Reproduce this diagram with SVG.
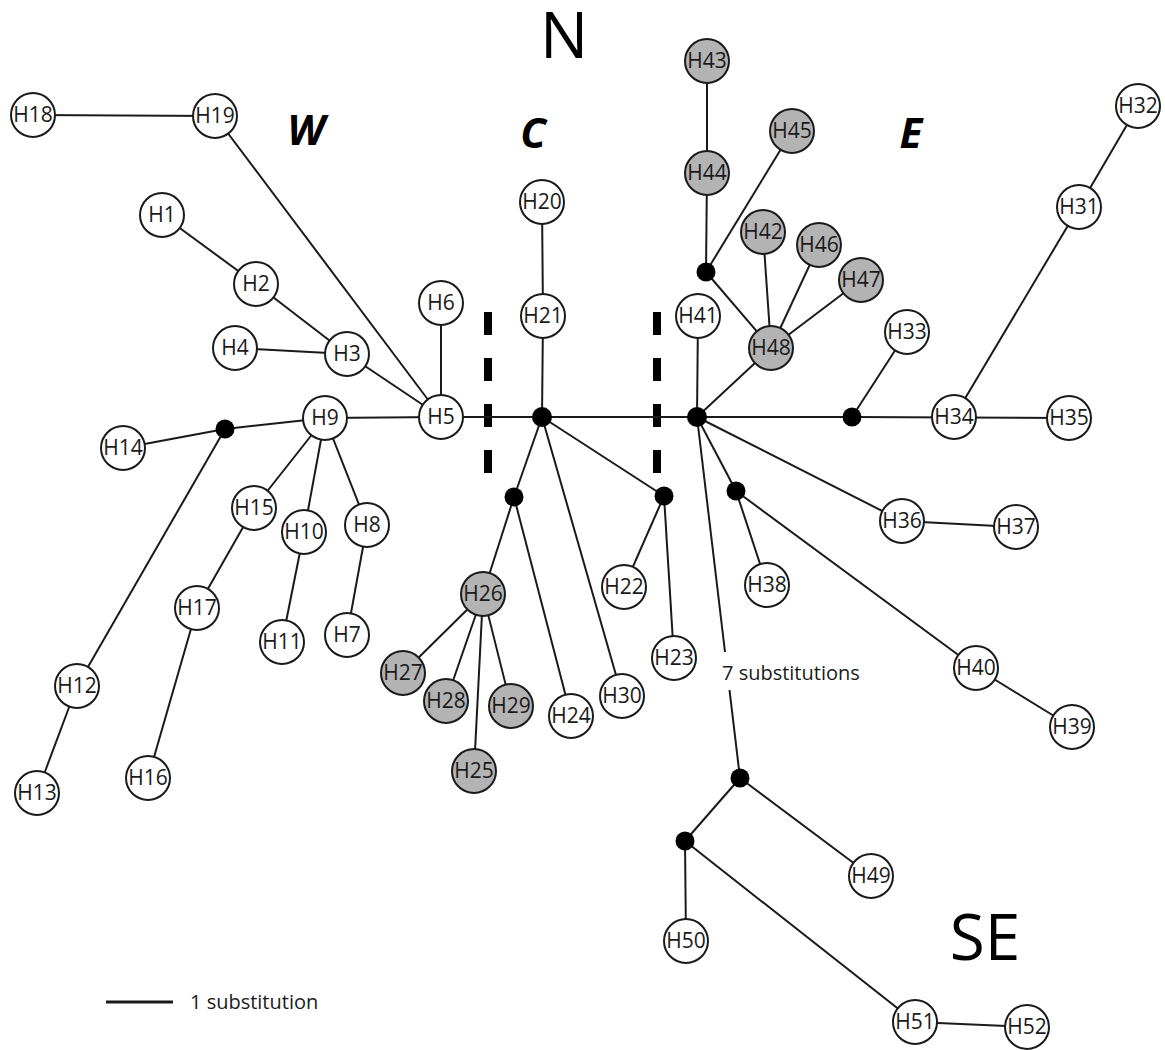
<svg xmlns="http://www.w3.org/2000/svg" width="1165" height="1050" viewBox="0 0 1165 1050">
<style>
.e{stroke:#1a1a1a;stroke-width:2;fill:none}
.n circle{stroke:#1a1a1a;stroke-width:2;fill:#fff}
.g circle{fill:#b3b3b3}
.n text{font-family:"Open Sans","Noto Sans",sans-serif;font-size:21px;text-anchor:middle;fill:#1a1a1a}
.j{fill:#000}
.big{font-family:"Open Sans","Noto Sans",sans-serif;font-size:64px;text-anchor:middle;fill:#000}
.reg{font-family:"Open Sans","Noto Sans",sans-serif;font-size:42px;font-weight:bold;font-style:italic;text-anchor:middle;fill:#000}
.lab{font-family:"Open Sans","Noto Sans",sans-serif;font-size:20px;fill:#1a1a1a}
.dash{stroke:#000;stroke-width:8;stroke-dasharray:23 23}
</style>
<rect width="1165" height="1050" fill="#fff"/>
<g id="labels">
<text class="big" x="564" y="58">N</text>
<text class="big" x="985" y="960">SE</text>
<text class="reg" x="306" y="145">W</text>
<text class="reg" x="533" y="148">C</text>
<text class="reg" x="911" y="148">E</text>
<text class="lab" x="722" y="680">7 substitutions</text>
<line x1="106" y1="1002" x2="173" y2="1002" stroke="#1a1a1a" stroke-width="3"/>
<text class="lab" x="190" y="1009">1 substitution</text>
</g>
<g id="dividers">
<line class="dash" x1="488" y1="312" x2="488" y2="473"/>
<line class="dash" x1="657" y1="312" x2="657" y2="473"/>
</g>
<g id="connectors" class="e">
<line x1="33" y1="115" x2="215" y2="116"/>
<line x1="215" y1="116" x2="441" y2="417"/>
<line x1="162" y1="215" x2="256" y2="284"/>
<line x1="256" y1="284" x2="347" y2="354"/>
<line x1="235" y1="348" x2="347" y2="354"/>
<line x1="347" y1="354" x2="441" y2="417"/>
<line x1="441" y1="303" x2="441" y2="417"/>
<line x1="325" y1="418" x2="441" y2="417"/>
<line x1="441" y1="417" x2="852" y2="417"/>
<line x1="852" y1="417" x2="1069" y2="418"/>
<line x1="542" y1="417" x2="543" y2="316"/>
<line x1="543" y1="316" x2="542" y2="202"/>
<line x1="542" y1="417" x2="514" y2="497"/>
<line x1="514" y1="497" x2="483" y2="594"/>
<line x1="514" y1="497" x2="571" y2="716"/>
<line x1="542" y1="417" x2="622" y2="696"/>
<line x1="542" y1="417" x2="664" y2="496"/>
<line x1="664" y1="496" x2="624" y2="587"/>
<line x1="664" y1="496" x2="674" y2="658"/>
<line x1="483" y1="594" x2="403" y2="673"/>
<line x1="483" y1="594" x2="446" y2="701"/>
<line x1="483" y1="594" x2="511" y2="706"/>
<line x1="483" y1="594" x2="474" y2="771"/>
<line x1="697" y1="417" x2="698" y2="316"/>
<line x1="697" y1="417" x2="771" y2="348"/>
<line x1="771" y1="348" x2="706" y2="272"/>
<line x1="706" y1="272" x2="707" y2="173"/>
<line x1="707" y1="173" x2="707" y2="61"/>
<line x1="706" y1="272" x2="792" y2="131"/>
<line x1="771" y1="348" x2="763" y2="232"/>
<line x1="771" y1="348" x2="819" y2="245"/>
<line x1="771" y1="348" x2="861" y2="280"/>
<line x1="852" y1="417" x2="907" y2="332"/>
<line x1="954" y1="417" x2="1079" y2="207"/>
<line x1="1079" y1="207" x2="1138" y2="106"/>
<line x1="697" y1="417" x2="902" y2="521"/>
<line x1="902" y1="521" x2="1016" y2="527"/>
<line x1="697" y1="417" x2="736" y2="491"/>
<line x1="736" y1="491" x2="767" y2="585"/>
<line x1="736" y1="491" x2="976" y2="668"/>
<line x1="976" y1="668" x2="1072" y2="727"/>
<line x1="697" y1="417" x2="725" y2="652"/>
<line x1="729.5" y1="690" x2="740" y2="778"/>
<line x1="740" y1="778" x2="685" y2="841"/>
<line x1="740" y1="778" x2="871" y2="876"/>
<line x1="685" y1="841" x2="686" y2="941"/>
<line x1="685" y1="841" x2="915" y2="1022"/>
<line x1="915" y1="1022" x2="1027" y2="1027"/>
<line x1="325" y1="418" x2="225" y2="429"/>
<line x1="225" y1="429" x2="123" y2="448"/>
<line x1="225" y1="429" x2="77" y2="686"/>
<line x1="77" y1="686" x2="37" y2="793"/>
<line x1="325" y1="418" x2="254" y2="508"/>
<line x1="254" y1="508" x2="197" y2="608"/>
<line x1="197" y1="608" x2="148" y2="778"/>
<line x1="325" y1="418" x2="304" y2="532"/>
<line x1="304" y1="532" x2="282" y2="642"/>
<line x1="325" y1="418" x2="367" y2="525"/>
<line x1="367" y1="525" x2="347" y2="635"/>
</g>
<g id="junctions">
<circle id="jW" class="j" cx="225" cy="429" r="9.5"/>
<circle id="jC" class="j" cx="542" cy="417" r="10"/>
<circle id="jC1" class="j" cx="514" cy="497" r="9.5"/>
<circle id="jC2" class="j" cx="664" cy="496" r="9.5"/>
<circle id="jE" class="j" cx="697" cy="417" r="10"/>
<circle id="jN" class="j" cx="706" cy="272" r="9.5"/>
<circle id="jE2" class="j" cx="736" cy="491" r="9.5"/>
<circle id="jE3" class="j" cx="852" cy="417" r="9.5"/>
<circle id="jSE1" class="j" cx="740" cy="778" r="9.5"/>
<circle id="jSE2" class="j" cx="685" cy="841" r="9.5"/>
</g>
<g id="H1" class="n"><circle cx="162" cy="215" r="22"/><text x="162" y="222">H1</text></g>
<g id="H2" class="n"><circle cx="256" cy="284" r="22"/><text x="256" y="291">H2</text></g>
<g id="H3" class="n"><circle cx="347" cy="354" r="22"/><text x="347" y="361">H3</text></g>
<g id="H4" class="n"><circle cx="235" cy="348" r="22"/><text x="235" y="355">H4</text></g>
<g id="H5" class="n"><circle cx="441" cy="417" r="22"/><text x="441" y="424">H5</text></g>
<g id="H6" class="n"><circle cx="441" cy="303" r="22"/><text x="441" y="310">H6</text></g>
<g id="H7" class="n"><circle cx="347" cy="635" r="22"/><text x="347" y="642">H7</text></g>
<g id="H8" class="n"><circle cx="367" cy="525" r="22"/><text x="367" y="532">H8</text></g>
<g id="H9" class="n"><circle cx="325" cy="418" r="22"/><text x="325" y="425">H9</text></g>
<g id="H10" class="n"><circle cx="304" cy="532" r="22"/><text x="304" y="539">H10</text></g>
<g id="H11" class="n"><circle cx="282" cy="642" r="22"/><text x="282" y="649">H11</text></g>
<g id="H12" class="n"><circle cx="77" cy="686" r="22"/><text x="77" y="693">H12</text></g>
<g id="H13" class="n"><circle cx="37" cy="793" r="22"/><text x="37" y="800">H13</text></g>
<g id="H14" class="n"><circle cx="123" cy="448" r="22"/><text x="123" y="455">H14</text></g>
<g id="H15" class="n"><circle cx="254" cy="508" r="22"/><text x="254" y="515">H15</text></g>
<g id="H16" class="n"><circle cx="148" cy="778" r="22"/><text x="148" y="785">H16</text></g>
<g id="H17" class="n"><circle cx="197" cy="608" r="22"/><text x="197" y="615">H17</text></g>
<g id="H18" class="n"><circle cx="33" cy="115" r="22"/><text x="33" y="122">H18</text></g>
<g id="H19" class="n"><circle cx="215" cy="116" r="22"/><text x="215" y="123">H19</text></g>
<g id="H20" class="n"><circle cx="542" cy="202" r="22"/><text x="542" y="209">H20</text></g>
<g id="H21" class="n"><circle cx="543" cy="316" r="22"/><text x="543" y="323">H21</text></g>
<g id="H22" class="n"><circle cx="624" cy="587" r="22"/><text x="624" y="594">H22</text></g>
<g id="H23" class="n"><circle cx="674" cy="658" r="22"/><text x="674" y="665">H23</text></g>
<g id="H24" class="n"><circle cx="571" cy="716" r="22"/><text x="571" y="723">H24</text></g>
<g id="H25" class="n g"><circle cx="474" cy="771" r="22"/><text x="474" y="778">H25</text></g>
<g id="H26" class="n g"><circle cx="483" cy="594" r="22"/><text x="483" y="601">H26</text></g>
<g id="H27" class="n g"><circle cx="403" cy="673" r="22"/><text x="403" y="680">H27</text></g>
<g id="H28" class="n g"><circle cx="446" cy="701" r="22"/><text x="446" y="708">H28</text></g>
<g id="H29" class="n g"><circle cx="511" cy="706" r="22"/><text x="511" y="713">H29</text></g>
<g id="H30" class="n"><circle cx="622" cy="696" r="22"/><text x="622" y="703">H30</text></g>
<g id="H31" class="n"><circle cx="1079" cy="207" r="22"/><text x="1079" y="214">H31</text></g>
<g id="H32" class="n"><circle cx="1138" cy="106" r="22"/><text x="1138" y="113">H32</text></g>
<g id="H33" class="n"><circle cx="907" cy="332" r="22"/><text x="907" y="339">H33</text></g>
<g id="H34" class="n"><circle cx="954" cy="417" r="22"/><text x="954" y="424">H34</text></g>
<g id="H35" class="n"><circle cx="1069" cy="418" r="22"/><text x="1069" y="425">H35</text></g>
<g id="H36" class="n"><circle cx="902" cy="521" r="22"/><text x="902" y="528">H36</text></g>
<g id="H37" class="n"><circle cx="1016" cy="527" r="22"/><text x="1016" y="534">H37</text></g>
<g id="H38" class="n"><circle cx="767" cy="585" r="22"/><text x="767" y="592">H38</text></g>
<g id="H39" class="n"><circle cx="1072" cy="727" r="22"/><text x="1072" y="734">H39</text></g>
<g id="H40" class="n"><circle cx="976" cy="668" r="22"/><text x="976" y="675">H40</text></g>
<g id="H41" class="n"><circle cx="698" cy="316" r="22"/><text x="698" y="323">H41</text></g>
<g id="H42" class="n g"><circle cx="763" cy="232" r="22"/><text x="763" y="239">H42</text></g>
<g id="H43" class="n g"><circle cx="707" cy="61" r="22"/><text x="707" y="68">H43</text></g>
<g id="H44" class="n g"><circle cx="707" cy="173" r="22"/><text x="707" y="180">H44</text></g>
<g id="H45" class="n g"><circle cx="792" cy="131" r="22"/><text x="792" y="138">H45</text></g>
<g id="H46" class="n g"><circle cx="819" cy="245" r="22"/><text x="819" y="252">H46</text></g>
<g id="H47" class="n g"><circle cx="861" cy="280" r="22"/><text x="861" y="287">H47</text></g>
<g id="H48" class="n g"><circle cx="771" cy="348" r="22"/><text x="771" y="355">H48</text></g>
<g id="H49" class="n"><circle cx="871" cy="876" r="22"/><text x="871" y="883">H49</text></g>
<g id="H50" class="n"><circle cx="686" cy="941" r="22"/><text x="686" y="948">H50</text></g>
<g id="H51" class="n"><circle cx="915" cy="1022" r="22"/><text x="915" y="1029">H51</text></g>
<g id="H52" class="n"><circle cx="1027" cy="1027" r="22"/><text x="1027" y="1034">H52</text></g>
</svg>
